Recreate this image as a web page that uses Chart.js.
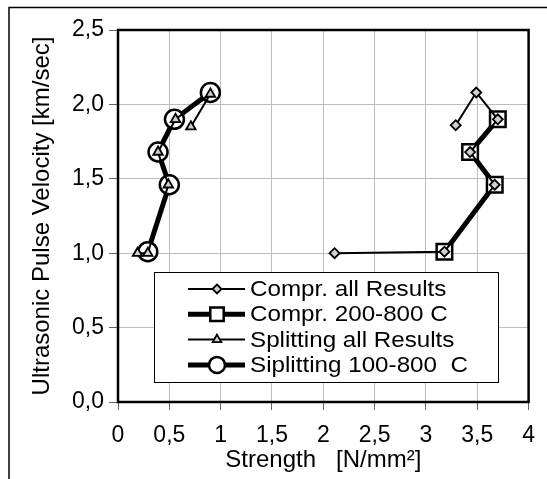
<!DOCTYPE html>
<html>
<head>
<meta charset="utf-8">
<script src="https://cdn.jsdelivr.net/npm/chart.js@4/dist/chart.umd.min.js"></script>
<style>
  html, body { margin: 0; padding: 0; background: #fff; }
  #wrap { width: 547px; height: 479px; }
</style>
</head>
<body>
<div id="wrap"><canvas id="upv"></canvas></div>
<script>
// Strength (x) against ultrasonic pulse velocity (y)
var comprAllStrength = [2.11, 3.18, 3.67, 3.43, 3.70, 3.49, 3.29];
var comprAllVelocity = [1.00, 1.01, 1.46, 1.68, 1.90, 2.08, 1.86];

var compr200Strength = [3.18, 3.67, 3.43, 3.70];
var compr200Velocity = [1.01, 1.46, 1.68, 1.90];

var splitAllStrength = [0.19, 0.29, 0.49, 0.39, 0.56, 0.90, 0.71];
var splitAllVelocity = [1.00, 1.00, 1.46, 1.68, 1.90, 2.07, 1.85];

var split100Strength = [0.29, 0.50, 0.39, 0.55, 0.90];
var split100Velocity = [1.01, 1.46, 1.68, 1.90, 2.08];

var seriesNames = ['Compr. all Results', 'Compr. 200-800 C', 'Splitting all Results', 'Siplitting 100-800  C'];

var xTickLabels = ['0', '0,5', '1', '1,5', '2', '2,5', '3', '3,5', '4'];
var yTickLabels = ['0,0', '0,5', '1,0', '1,5', '2,0', '2,5'];

var FONT = 'Liberation Sans, Arial, sans-serif';

function toPoints(xs, ys) {
  return xs.map(function(x, i) { return { x: x, y: ys[i] }; });
}

// white page with the thin outer frame (left and top edges)
var framePlugin = {
  id: 'frame',
  beforeDraw: function(chart) {
    var ctx = chart.ctx;
    ctx.save();
    ctx.fillStyle = '#fff';
    ctx.fillRect(0, 0, chart.width, chart.height);
    ctx.strokeStyle = '#000';
    ctx.lineWidth = 1.5;
    ctx.beginPath();
    ctx.moveTo(9, chart.height);
    ctx.lineTo(9, 7.5);
    ctx.lineTo(chart.width, 7.5);
    ctx.stroke();
    ctx.restore();
  },
  afterDatasetsDraw: function(chart) {
    // heavy border round the plot area
    var a = chart.chartArea, ctx = chart.ctx;
    ctx.save();
    ctx.strokeStyle = '#000';
    ctx.lineWidth = 2.5;
    ctx.strokeRect(a.left, a.top, a.right - a.left, a.bottom - a.top);
    ctx.restore();
  }
};

// boxed legend sitting inside the plot area
var boxLegend = {
  id: 'boxLegend',
  afterDraw: function(chart) {
    var a = chart.chartArea, ctx = chart.ctx;
    var x0 = a.left + 36, y0 = a.top + 242, w = 344, h = 110;
    ctx.save();
    ctx.fillStyle = '#fff';
    ctx.fillRect(x0, y0, w, h);
    ctx.strokeStyle = '#000';
    ctx.lineWidth = 1;
    ctx.strokeRect(x0 + 0.5, y0 + 0.5, w, h);
    ctx.textBaseline = 'middle';
    chart.data.datasets.forEach(function(ds, i) {
      var cy = y0 + 17 + i * 25.3;
      ctx.strokeStyle = '#000';
      ctx.lineWidth = ds.borderWidth;
      ctx.beginPath();
      ctx.moveTo(x0 + 34, cy);
      ctx.lineTo(x0 + 91, cy);
      ctx.stroke();
      ctx.fillStyle = ds.pointBackgroundColor;
      ctx.strokeStyle = '#000';
      ctx.lineWidth = ds.pointBorderWidth;
      Chart.helpers.drawPoint(ctx, {
        pointStyle: ds.pointStyle,
        radius: ds.legendRadius,
        borderWidth: ds.pointBorderWidth,
        rotation: 0
      }, x0 + 63, cy);
      // the legend lettering runs a little wide
      ctx.save();
      ctx.translate(x0 + 96, cy + 1);
      ctx.scale(1.1, 1);
      ctx.font = '22px ' + FONT;
      ctx.fillStyle = '#000';
      ctx.fillText(ds.label, 0, 0);
      ctx.restore();
    });
    ctx.restore();
  }
};

new Chart(document.getElementById('upv'), {
  type: 'scatter',
  data: {
    datasets: [{
      label: seriesNames[0],
      data: toPoints(comprAllStrength, comprAllVelocity),
      showLine: true,
      borderColor: '#000',
      borderWidth: 2,
      pointStyle: 'rectRot',
      pointRadius: 5,
      legendRadius: 4.5,
      pointBackgroundColor: '#d0d0d0',
      pointBorderColor: '#000',
      pointBorderWidth: 1.8
    }, {
      label: seriesNames[1],
      data: toPoints(compr200Strength, compr200Velocity),
      showLine: true,
      borderColor: '#000',
      borderWidth: 5,
      pointStyle: 'rect',
      pointRadius: 11,
      legendRadius: 9.5,
      pointBackgroundColor: '#fff',
      pointBorderColor: '#000',
      pointBorderWidth: 2.5
    }, {
      label: seriesNames[2],
      data: toPoints(splitAllStrength, splitAllVelocity),
      showLine: true,
      borderColor: '#000',
      borderWidth: 2,
      pointStyle: 'triangle',
      pointRadius: 5.5,
      legendRadius: 5,
      pointBackgroundColor: '#d0d0d0',
      pointBorderColor: '#000',
      pointBorderWidth: 1.8
    }, {
      label: seriesNames[3],
      data: toPoints(split100Strength, split100Velocity),
      showLine: true,
      borderColor: '#000',
      borderWidth: 5,
      pointStyle: 'circle',
      pointRadius: 9.5,
      legendRadius: 8,
      pointBackgroundColor: '#fff',
      pointBorderColor: '#000',
      pointBorderWidth: 2.5
    }]
  },
  options: {
    responsive: true,
    maintainAspectRatio: false,
    animation: false,
    layout: { padding: { top: 30, right: 14, left: 0, bottom: 0 } },
    plugins: {
      legend: { display: false },
      tooltip: { enabled: false }
    },
    scales: {
      x: {
        type: 'linear',
        min: 0,
        max: 4,
        afterFit: function(scale) { scale.height = 77; },
        afterBuildTicks: function(scale) {
          scale.ticks = xTickLabels.map(function(t, i) { return { value: i * 0.5 }; });
        },
        ticks: {
          color: '#000',
          padding: 12,
          maxRotation: 0,
          font: { family: FONT, size: 23 },
          callback: function(value, index) { return xTickLabels[index]; }
        },
        grid: { color: '#bdbdbd', lineWidth: 1, tickLength: 8, tickColor: '#666' },
        border: { display: false },
        title: {
          display: true,
          text: 'Strength   [N/mm²]',
          color: '#000',
          font: { family: FONT, size: 24 },
          padding: { top: 0, bottom: 4 }
        }
      },
      y: {
        type: 'linear',
        min: 0,
        max: 2.5,
        afterFit: function(scale) { scale.width = 118; },
        afterBuildTicks: function(scale) {
          scale.ticks = yTickLabels.map(function(t, i) { return { value: i * 0.5 }; });
        },
        ticks: {
          color: '#000',
          padding: 5,
          font: { family: FONT, size: 23 },
          callback: function(value, index) { return yTickLabels[index]; }
        },
        grid: { color: '#bdbdbd', lineWidth: 1, tickLength: 9, tickColor: '#666' },
        border: { display: false },
        title: {
          display: true,
          text: 'Ultrasonic Pulse Velocity [km/sec]',
          color: '#000',
          font: { family: FONT, size: 24 },
          padding: { top: 28, bottom: 0 }
        }
      }
    }
  },
  plugins: [framePlugin, boxLegend]
});
</script>
</body>
</html>
